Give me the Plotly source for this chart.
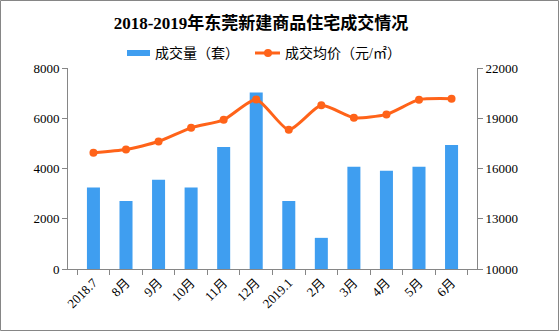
import plotly.graph_objects as go

categories = ["2018.7", "8月", "9月", "10月", "11月", "12月", "2019.1", "2月", "3月", "4月", "5月", "6月"]
volume = [3240, 2710, 3550, 3240, 4860, 7020, 2710, 1240, 4070, 3910, 4070, 4940]
price = [16940, 17130, 17610, 18430, 18910, 20120, 18310, 19770, 19030, 19230, 20110, 20170]
series_names = ["成交量（套）", "成交均价（元/㎡）"]

W, H = 559, 331
ml, mr, mt, mb = 68, 82, 68, 62
pw, ph = W - ml - mr, H - mt - mb

serif = "SimSun, 'Liberation Serif', 'Noto Sans CJK SC', serif"
bar_color = "#3F9EF0"
line_color = "#FF6319"

fig = go.Figure()
fig.add_trace(go.Bar(x=categories, y=volume, name=series_names[0],
                     marker=dict(color=bar_color, line=dict(width=0)), width=0.4))
fig.add_trace(go.Scatter(x=categories, y=price, name=series_names[1], yaxis="y2",
                         mode="lines+markers", line=dict(color=line_color, width=3, shape="spline", smoothing=0.6),
                         marker=dict(size=8, color=line_color)))

axis_common = dict(showgrid=False, linecolor="#868686", linewidth=1, ticks="outside",
                   tickcolor="#868686", ticklen=5, tickfont=dict(family=serif, size=13, color="#000"))

fig.update_layout(
    width=W, height=H, margin=dict(l=ml, r=mr, t=mt, b=mb, autoexpand=False),
    paper_bgcolor="white", plot_bgcolor="white",
    title=dict(text="<b>2018-2019年东莞新建商品住宅成交情况</b>", x=261 / W, xanchor="center",
               y=1 - 23 / H, yanchor="middle", font=dict(family=serif, size=17, color="#000")),
    showlegend=False,
    xaxis=dict(**axis_common, tickangle=-45, tickson="boundaries"),
    yaxis=dict(**axis_common, range=[0, 8000], tickvals=[0, 2000, 4000, 6000, 8000], showline=True,
               tickformat="d"),
    yaxis2=dict(**axis_common, range=[10000, 22000], tickvals=[10000, 13000, 16000, 19000, 22000],
                overlaying="y", side="right", showline=True, tickformat="d"),
)

def px(x):
    return (x - ml) / pw

def py(y):
    return (H - mb - y) / ph

# outer frame
fig.add_shape(type="rect", xref="paper", yref="paper",
              x0=px(0.5), x1=px(W - 0.5), y0=py(H - 0.5), y1=py(0.5),
              line=dict(color="#868686", width=1))

# custom legend
ly = 53
fig.add_shape(type="rect", xref="paper", yref="paper", x0=px(127), x1=px(150), y0=py(56), y1=py(50),
              fillcolor=bar_color, line=dict(width=0))
fig.add_annotation(xref="paper", yref="paper", x=px(153), y=py(ly), text=series_names[0], showarrow=False,
                   xanchor="left", yanchor="middle", font=dict(family=serif, size=14, color="#000"))
fig.add_shape(type="line", xref="paper", yref="paper", x0=px(255), x1=px(280), y0=py(ly), y1=py(ly),
              line=dict(color=line_color, width=3))
fig.add_shape(type="circle", xref="paper", yref="paper", x0=px(264), x1=px(272), y0=py(ly + 4), y1=py(ly - 4),
              fillcolor=line_color, line=dict(width=0))
fig.add_annotation(xref="paper", yref="paper", x=px(283), y=py(ly), text=series_names[1], showarrow=False,
                   xanchor="left", yanchor="middle", font=dict(family=serif, size=14, color="#000"))

fig.write_html("out.html")
